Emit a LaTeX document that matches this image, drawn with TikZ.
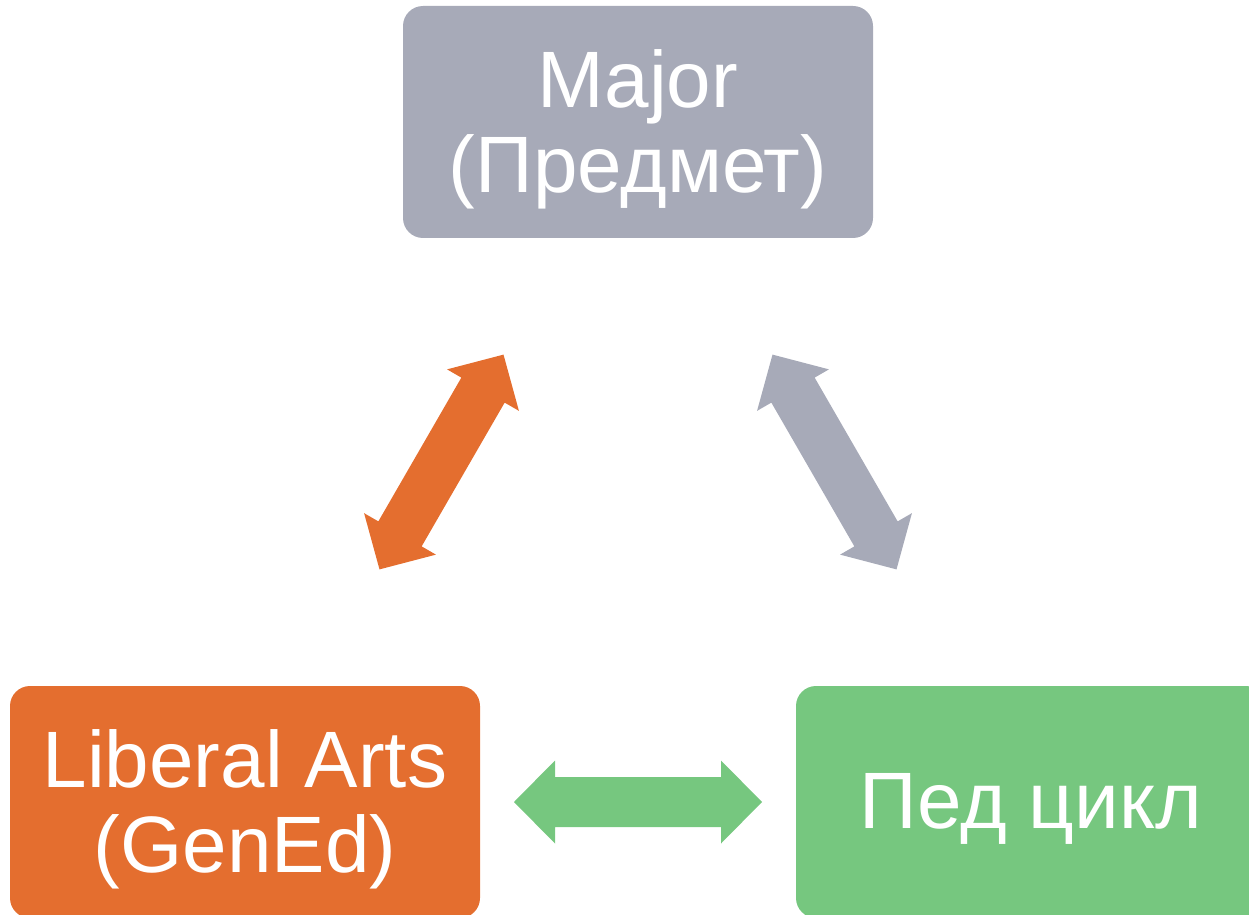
\documentclass[tikz,border=0pt]{standalone}
\usepackage{fontspec}
\setmainfont{Liberation Sans}
\usetikzlibrary{calc}

\definecolor{majorgray}{RGB}{167,170,184}
\definecolor{artsorange}{RGB}{228,110,47}
\definecolor{pedgreen}{RGB}{118,199,127}

\tikzset{
  box/.style={rounded corners=10pt, minimum width=235pt, minimum height=116pt, inner sep=0pt},
  boxtext/.style={text=white, align=center, yshift=-3.5pt, font=\fontsize{40}{42.5}\selectfont},
  fatarrow/.pic={
    \path[pic actions] (-124,0) -- (-83,-41.5) -- (-83,-25) -- (83,-25) -- (83,-41.5)
      -- (124,0) -- (83,41.5) -- (83,25) -- (-83,25) -- (-83,41.5) -- cycle;
  }
}

\begin{document}
\begin{tikzpicture}[x=0.5pt,y=-0.5pt]
	  \useasboundingbox (0,0) rectangle (1249,915);

	  \node[box, fill=majorgray, label={[boxtext]center:Major\\(Предмет)}] (major) at (638,122) {};
	  \node[box, fill=artsorange, label={[boxtext]center:Liberal Arts\\(GenEd)}] (arts) at (245,802) {};
	  \node[box, fill=pedgreen, label={[boxtext]center:Пед цикл}] (ped) at (1031,802) {};

	  \pic[fill=artsorange, rotate=60] at ($(major)!0.5!(arts)$) {fatarrow};
	  \pic[fill=majorgray, rotate=-60] at ($(major)!0.5!(ped)$) {fatarrow};
	  \pic[fill=pedgreen] at ($(arts)!0.5!(ped)$) {fatarrow};
	\end{tikzpicture}
\end{document}
